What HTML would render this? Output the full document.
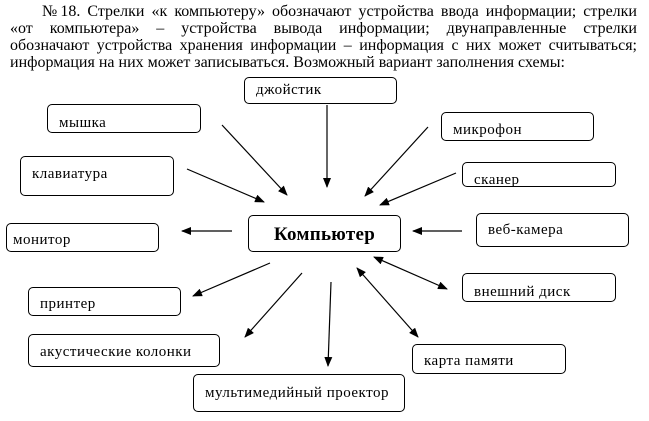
<!DOCTYPE html>
<html><head><meta charset="utf-8"><style>
body{margin:0;width:649px;height:421px;background:#fff;position:relative;overflow:hidden;font-family:"Liberation Serif",serif;color:#000}
.l{position:absolute;font-size:16px;line-height:17px;white-space:nowrap;text-align:justify;text-align-last:justify}
.b{position:absolute;border:1px solid #000;border-radius:5px;box-sizing:border-box;font-size:15px;letter-spacing:0.5px;padding-left:11px;background:#fff}
svg{position:absolute;left:0;top:0}
</style></head><body>
<div class="l" style="left:42px;top:3px;width:595px">№18. Стрелки «к компьютеру» обозначают устройства ввода информации; стрелки</div>
<div class="l" style="left:10px;top:20px;width:627px">«от компьютера» – устройства вывода информации; двунаправленные стрелки</div>
<div class="l" style="left:10px;top:37px;width:627px">обозначают устройства хранения информации – информация с них может считываться;</div>
<div class="l" style="left:10px;top:54px;text-align-last:left">информация на них может записываться. Возможный вариант заполнения схемы:</div>
<svg width="649" height="421">
<defs><marker id="a" markerWidth="10" markerHeight="8" refX="9" refY="4" orient="auto" markerUnits="userSpaceOnUse"><path d="M0,0 L10,4 L0,8 Z"/></marker>
<marker id="s" markerWidth="10" markerHeight="8" refX="1" refY="4" orient="auto" markerUnits="userSpaceOnUse"><path d="M10,0 L0,4 L10,8 Z"/></marker></defs>
<g stroke="#000" stroke-width="1.2" marker-end="url(#a)">
<line x1="222" y1="125" x2="287" y2="195"/>
<line x1="327" y1="105" x2="327" y2="187"/>
<line x1="187" y1="169" x2="264" y2="202"/>
<line x1="428" y1="127" x2="365" y2="196"/>
<line x1="456" y1="173" x2="380" y2="205"/>
<line x1="232" y1="231" x2="182" y2="231"/>
<line x1="462" y1="231" x2="413" y2="231"/>
<line x1="270" y1="263" x2="193" y2="296"/>
<line x1="302" y1="273" x2="245" y2="337"/>
<line x1="331" y1="282" x2="328" y2="366"/>
<line x1="374" y1="257" x2="447" y2="289" marker-start="url(#s)"/>
<line x1="357" y1="268" x2="418" y2="337" marker-start="url(#s)"/>
</g></svg>
<div class="b" style="left:244px;top:77px;width:153px;height:27px;line-height:24px">джойстик</div>
<div class="b" style="left:47px;top:104px;width:154px;height:29px;line-height:36px">мышка</div>
<div class="b" style="left:441px;top:112px;width:153px;height:29px;line-height:34px">микрофон</div>
<div class="b" style="left:20px;top:156px;width:154px;height:40px;line-height:34px">клавиатура</div>
<div class="b" style="left:462px;top:162px;width:154px;height:25px;line-height:34px;overflow:hidden">сканер</div>
<div class="b" style="left:6px;top:223px;width:153px;height:29px;line-height:32px;padding-left:6px">монитор</div>
<div class="b" style="left:248px;top:215px;width:153px;height:37px;line-height:37px;padding:0;text-align:center;font-weight:bold;font-size:19px;letter-spacing:0.3px">Компьютер</div>
<div class="b" style="left:476px;top:213px;width:153px;height:34px;line-height:32px">веб-камера</div>
<div class="b" style="left:28px;top:287px;width:153px;height:29px;line-height:32px">принтер</div>
<div class="b" style="left:28px;top:334px;width:192px;height:33px;line-height:34px">акустические колонки</div>
<div class="b" style="left:193px;top:374px;width:212px;height:38px;line-height:36px">мультимедийный проектор</div>
<div class="b" style="left:462px;top:273px;width:154px;height:29px;line-height:36px">внешний диск</div>
<div class="b" style="left:412px;top:344px;width:154px;height:30px;line-height:32px">карта памяти</div>
</body></html>
